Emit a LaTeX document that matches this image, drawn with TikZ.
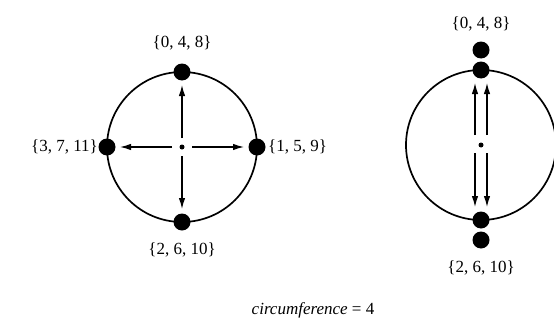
\documentclass[tikz,border=0pt]{standalone}
\usepackage{fontspec}
\setmainfont{Liberation Serif}
\usetikzlibrary{arrows.meta}
\begin{document}
\begin{tikzpicture}[x=1pt,y=-1pt,
 bigdot/.style={circle,fill=black,inner sep=0pt,minimum size=17pt},
 smalldot/.style={circle,fill=black,inner sep=0pt,minimum size=5pt},
 ring/.style={draw,line width=1.7pt},
 ray/.style={line width=1.2pt,-{Latex[length=11pt,width=6.5pt]}},
 lbl/.style={font=\fontsize{17}{20}\selectfont,inner sep=0pt}]
\useasboundingbox (0,0) rectangle (554,324);
% left circle
\draw[ring] (182,147) circle[radius=75];
\node[smalldot] (lc) at (182,147) {};
\node[bigdot] (lt) at (182,72) {};
\node[bigdot] (lb) at (182,222) {};
\node[bigdot] (ll) at (107,147) {};
\node[bigdot] (lr) at (257,147) {};
\draw[ray,shorten <=9pt,shorten >=13pt] (lc.center) -- (lt.center);
\draw[ray,shorten <=9pt,shorten >=13pt] (lc.center) -- (lb.center);
\draw[ray,shorten <=10pt,shorten >=13pt] (lc.center) -- (ll.center);
\draw[ray,shorten <=10pt,shorten >=13pt] (lc.center) -- (lr.center);
\node[lbl] (l0) at (182,43) {\{0, 4, 8\}};
\node[lbl] (l2) at (182,250) {\{2, 6, 10\}};
\node[lbl,anchor=east] (l3) at (98,147) {\{3, 7, 11\}};
\node[lbl,anchor=west] (l1) at (268,147) {\{1, 5, 9\}};
% right circle
\draw[ring] (481,145) circle[radius=75];
\node[smalldot] (rc) at (481,145) {};
\node[bigdot] (rt) at (481,70) {};
\node[bigdot] (rb) at (481,220) {};
\node[bigdot] (rtt) at (481,50) {};
\node[bigdot] (rbb) at (481,240) {};
\draw[ray,shorten <=10pt,shorten >=13pt] ([xshift=-6pt]rc.center) -- ([xshift=-6pt]rt.center);
\draw[ray,shorten <=10pt,shorten >=13pt] ([xshift=6pt]rc.center) -- ([xshift=6pt]rt.center);
\draw[ray,shorten <=8pt,shorten >=13pt] ([xshift=-6pt]rc.center) -- ([xshift=-6pt]rb.center);
\draw[ray,shorten <=8pt,shorten >=13pt] ([xshift=6pt]rc.center) -- ([xshift=6pt]rb.center);
\node[lbl] (r0) at (481,24) {\{0, 4, 8\}};
\node[lbl] (r2) at (481,268) {\{2, 6, 10\}};
% caption
\node[lbl] (cap) at (313,310) {\textit{circumference} = 4};
\end{tikzpicture}
\end{document}
